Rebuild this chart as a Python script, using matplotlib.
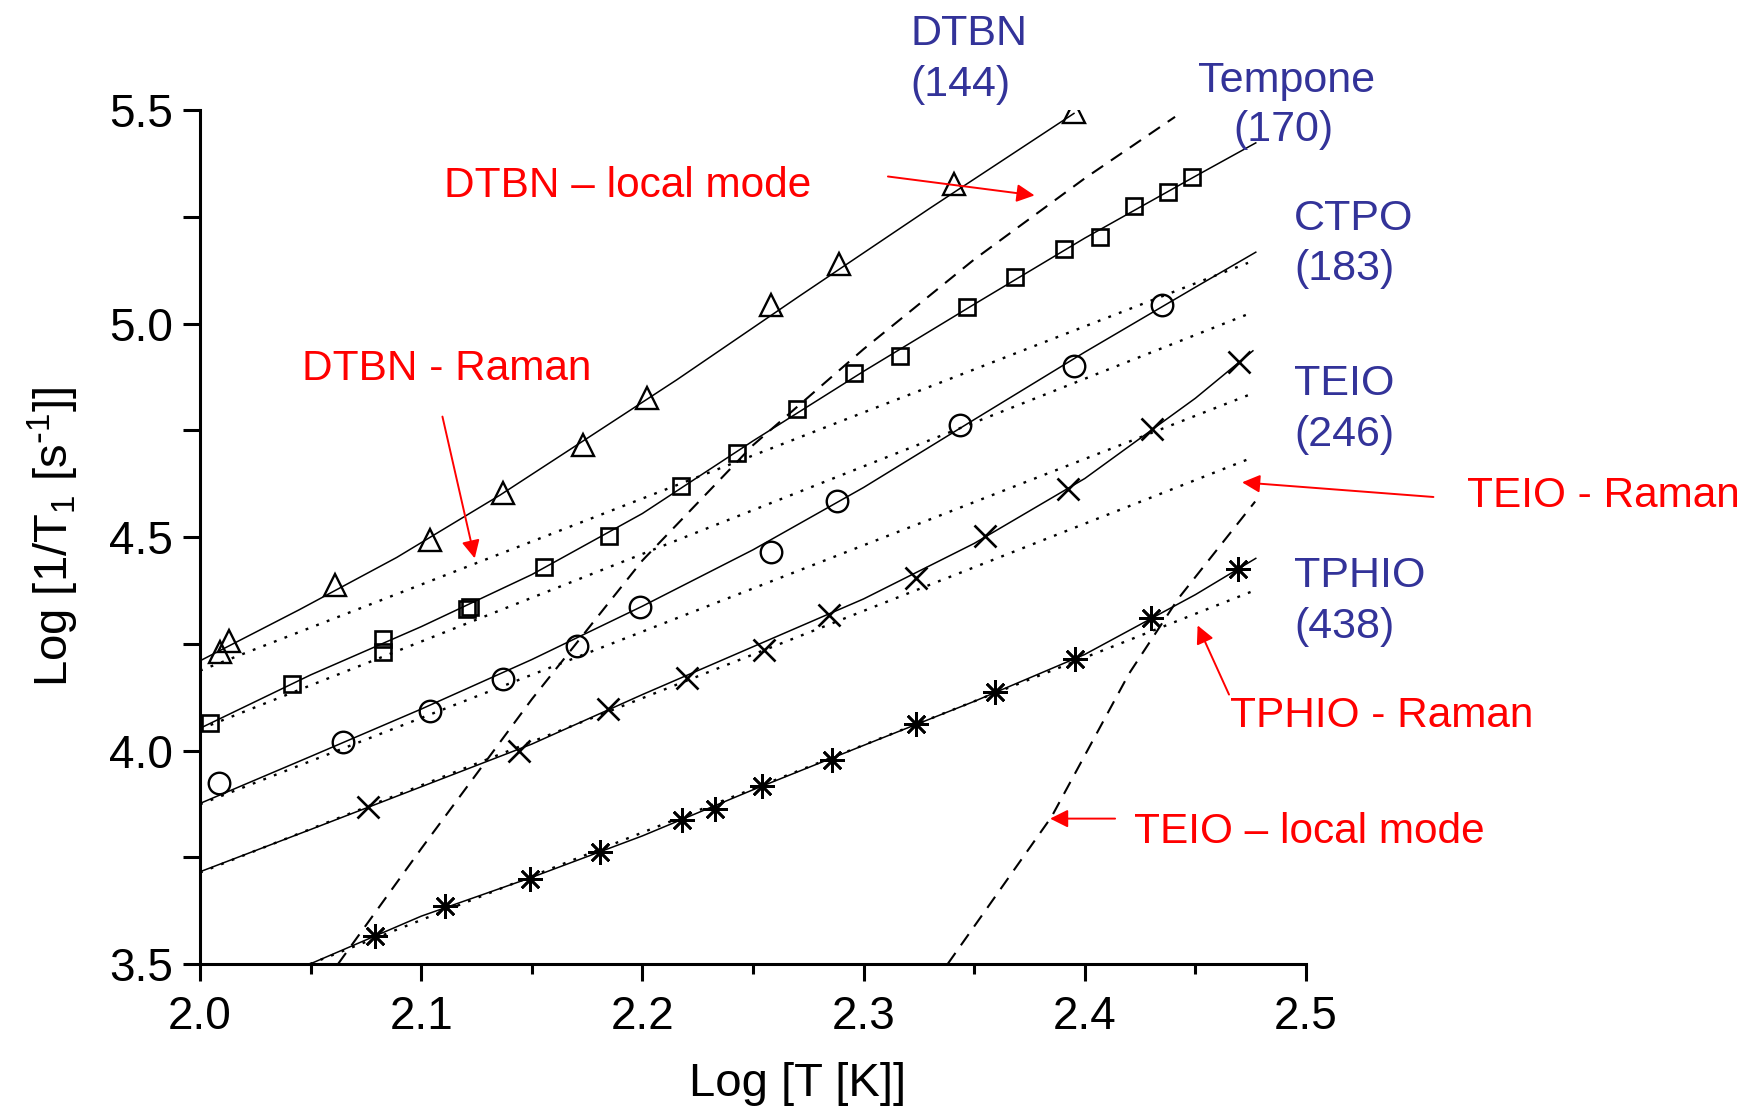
import matplotlib
matplotlib.use("Agg")
import matplotlib.pyplot as plt
from matplotlib.ticker import MultipleLocator, FormatStrFormatter

plt.rcParams['font.family'] = ['Liberation Sans', 'DejaVu Sans']
plt.rcParams['mathtext.default'] = 'regular'

# ---------------- data ----------------
# measured points
dtbn_x = [2.009, 2.013, 2.061, 2.104, 2.137, 2.173, 2.202, 2.258, 2.289, 2.341, 2.395]
dtbn_y = [4.231, 4.256, 4.388, 4.494, 4.603, 4.716, 4.826, 5.043, 5.140, 5.326, 5.495]

tempone_x = [2.0045, 2.0414, 2.0829, 2.0829, 2.1206, 2.1220, 2.1557, 2.1849, 2.2175, 2.2429,
             2.2698, 2.2958, 2.3165, 2.3466, 2.3684, 2.3906, 2.4069, 2.4224, 2.4378, 2.4483]
tempone_y = [4.064, 4.155, 4.260, 4.231, 4.331, 4.335, 4.430, 4.503, 4.619, 4.696,
             4.799, 4.885, 4.924, 5.038, 5.110, 5.174, 5.203, 5.275, 5.307, 5.342]

ctpo_x = [2.0087, 2.0645, 2.104, 2.1368, 2.1703, 2.1989, 2.258, 2.2878, 2.3436, 2.3951, 2.4348]
ctpo_y = [3.923, 4.019, 4.093, 4.168, 4.245, 4.335, 4.464, 4.585, 4.762, 4.901, 5.043]

teio_x = [2.0758, 2.1444, 2.1846, 2.2203, 2.2550, 2.2844, 2.3237, 2.3551, 2.3926, 2.4302, 2.4699]
teio_y = [3.868, 4.000, 4.097, 4.169, 4.235, 4.318, 4.405, 4.502, 4.612, 4.752, 4.911]

tphio_x = [2.0791, 2.1108, 2.149, 2.1808, 2.2177, 2.2328, 2.2539, 2.2859, 2.3238, 2.3596,
           2.3955, 2.4298, 2.4694]
tphio_y = [3.566, 3.637, 3.699, 3.762, 3.838, 3.864, 3.917, 3.977, 4.063, 4.136,
           4.2145, 4.311, 4.425]

# total fits (solid)
dtbn_fit_x = [2.0, 2.045, 2.0889, 2.1356, 2.175, 2.2155, 2.2712, 2.33, 2.3951]
dtbn_fit_y = [4.210, 4.330, 4.452, 4.598, 4.731, 4.868, 5.065, 5.270, 5.492]

tempone_fit_x = [2.0, 2.05, 2.1, 2.15, 2.2, 2.25, 2.3, 2.35, 2.4, 2.45, 2.4773]
tempone_fit_y = [4.052, 4.177, 4.290, 4.412, 4.555, 4.725, 4.888, 5.045, 5.200, 5.345, 5.423]

ctpo_fit_x = [2.0, 2.05, 2.1, 2.15, 2.2, 2.25, 2.3, 2.35, 2.4, 2.45, 2.4773]
ctpo_fit_y = [3.876, 3.986, 4.097, 4.213, 4.338, 4.470, 4.616, 4.775, 4.933, 5.085, 5.167]

teio_fit_x = [2.0, 2.05, 2.1, 2.15, 2.2, 2.25, 2.3, 2.35, 2.4, 2.45, 2.476]
teio_fit_y = [3.716, 3.815, 3.915, 4.015, 4.131, 4.243, 4.355, 4.485, 4.637, 4.825, 4.936]

tphio_fit_x = [2.0497, 2.1, 2.15, 2.2, 2.25, 2.3, 2.35, 2.4, 2.45, 2.4773]
tphio_fit_y = [3.500, 3.612, 3.703, 3.800, 3.908, 4.012, 4.115, 4.225, 4.365, 4.450]

# Raman contributions (dotted)
dtbn_raman_x = [2.0, 2.4738]
dtbn_raman_y = [4.187, 5.142]
tempone_raman_x = [2.0, 2.4738]
tempone_raman_y = [4.050, 5.022]
ctpo_raman_x = [2.0, 2.4738]
ctpo_raman_y = [3.874, 4.832]
teio_raman_x = [2.0, 2.4738]
teio_raman_y = [3.714, 4.682]
tphio_raman_x = [2.0497, 2.4773]
tphio_raman_y = [3.500, 4.376]

# local mode contributions (dashed)
dtbn_local_x = [2.0624, 2.1, 2.15, 2.2, 2.25, 2.3, 2.35, 2.4, 2.4408]
dtbn_local_y = [3.500, 3.770, 4.120, 4.445, 4.715, 4.940, 5.150, 5.340, 5.484]
teio_local_x = [2.338, 2.385, 2.42, 2.4423, 2.477]
teio_local_y = [3.500, 3.845, 4.180, 4.356, 4.583]

# ---------------- figure ----------------
W, H = 1752, 1109
fig = plt.figure(figsize=(W / 100, H / 100), dpi=100)
ax = fig.add_axes([200 / W, (H - 964) / H, 1106 / W, 854 / H])

BLUE = '#333399'
RED = '#ff0000'

line_kw = dict(color='black', lw=1.1)
dot_kw = dict(color='black', lw=1.7, dashes=(1.2, 3.6))
dash_kw = dict(color='black', lw=1.5, dashes=(6.5, 4.5))

# Raman (dotted)
for xs, ys in [(dtbn_raman_x, dtbn_raman_y), (tempone_raman_x, tempone_raman_y),
               (ctpo_raman_x, ctpo_raman_y), (teio_raman_x, teio_raman_y),
               (tphio_raman_x, tphio_raman_y)]:
    ax.plot(xs, ys, **dot_kw)

# local mode (dashed)
ax.plot(dtbn_local_x, dtbn_local_y, **dash_kw)
ax.plot(teio_local_x, teio_local_y, **dash_kw)

# total fits (solid)
for xs, ys in [(dtbn_fit_x, dtbn_fit_y), (tempone_fit_x, tempone_fit_y),
               (ctpo_fit_x, ctpo_fit_y), (teio_fit_x, teio_fit_y),
               (tphio_fit_x, tphio_fit_y)]:
    ax.plot(xs, ys, **line_kw)

# data markers
mk = dict(ls='none', mfc='none', mec='black')
ax.plot(dtbn_x, dtbn_y, marker='^', ms=16, mew=1.7, **mk)
ax.plot(tempone_x, tempone_y, marker='s', ms=12, mew=1.9, **mk)
ax.plot(ctpo_x, ctpo_y, marker='o', ms=15.5, mew=1.7, **mk)
ax.plot(teio_x, teio_y, marker='x', ms=16.5, mew=1.9, **mk)
ax.plot(tphio_x, tphio_y, marker=(8, 2, 0), ms=17.5, mew=1.9, **mk)

# axes styling
ax.set_xlim(2.0, 2.5)
ax.set_ylim(3.5, 5.5)
for s in ['top', 'right']:
    ax.spines[s].set_visible(False)
for s in ['left', 'bottom']:
    ax.spines[s].set_linewidth(2.2)

ax.xaxis.set_major_locator(MultipleLocator(0.1))
ax.xaxis.set_minor_locator(MultipleLocator(0.05))
ax.yaxis.set_major_locator(MultipleLocator(0.5))
ax.yaxis.set_minor_locator(MultipleLocator(0.25))
ax.xaxis.set_major_formatter(FormatStrFormatter('%.1f'))
ax.yaxis.set_major_formatter(FormatStrFormatter('%.1f'))

ax.tick_params(axis='both', which='major', direction='out', length=12.5, width=2.2,
               labelsize=33)
ax.tick_params(axis='x', which='major', pad=10)
ax.tick_params(axis='y', which='major', pad=7)
ax.tick_params(axis='x', which='minor', direction='out', length=7, width=2.2)
ax.tick_params(axis='y', which='minor', direction='out', length=12.5, width=2.2)

ax.set_xlabel('Log [T [K]]', fontsize=34)
ax.set_ylabel(r'Log [1/T$_1$ [s$^{\text{-}1}$]]', fontsize=34)
ax.xaxis.set_label_coords(0.54, -0.115)
ax.yaxis.set_label_coords(-0.108, 0.5)


def fxy(px, py):
    return px / W, 1 - py / H


# blue sample labels
fs_blue = 31
for txt, px, py, ha in [('DTBN', 910, 45, 'left'), ('(144)', 910, 96, 'left'),
                        ('Tempone', 1287, 92, 'center'), ('(170)', 1283, 141, 'center'),
                        ('CTPO', 1294, 230, 'left'), ('(183)', 1294, 280, 'left'),
                        ('TEIO', 1294, 395, 'left'), ('(246)', 1294, 446, 'left'),
                        ('TPHIO', 1294, 587, 'left'), ('(438)', 1294, 638, 'left')]:
    x, y = fxy(px, py)
    fig.text(x, y, txt, color=BLUE, fontsize=fs_blue, ha=ha, va='baseline')

# red annotations
fs_red = 30.5
for txt, px, py in [('DTBN \u2013 local mode', 444, 197), ('DTBN - Raman', 302, 380),
                    ('TEIO - Raman', 1467, 507), ('TPHIO - Raman', 1230, 727),
                    ('TEIO \u2013 local mode', 1134, 843)]:
    x, y = fxy(px, py)
    fig.text(x, y, txt, color=RED, fontsize=fs_red, ha='left', va='baseline')

arrow_kw = dict(arrowstyle='-|>,head_length=0.4,head_width=0.2', color=RED, lw=1.4,
                mutation_scale=27, shrinkA=0, shrinkB=0)
for tail, tip in [((2.3110, 5.3443), (2.3773, 5.300)),
                  ((2.1096, 4.782), (2.1242, 4.450)),
                  ((2.5576, 4.5937), (2.4711, 4.628)),
                  ((2.4652, 4.131), (2.4510, 4.293)),
                  ((2.4137, 3.8405), (2.3843, 3.8405))]:
    ax.annotate('', xy=tip, xytext=tail, xycoords='data', textcoords='data',
                arrowprops=arrow_kw, annotation_clip=False)

fig.savefig('out.png', dpi=100)
